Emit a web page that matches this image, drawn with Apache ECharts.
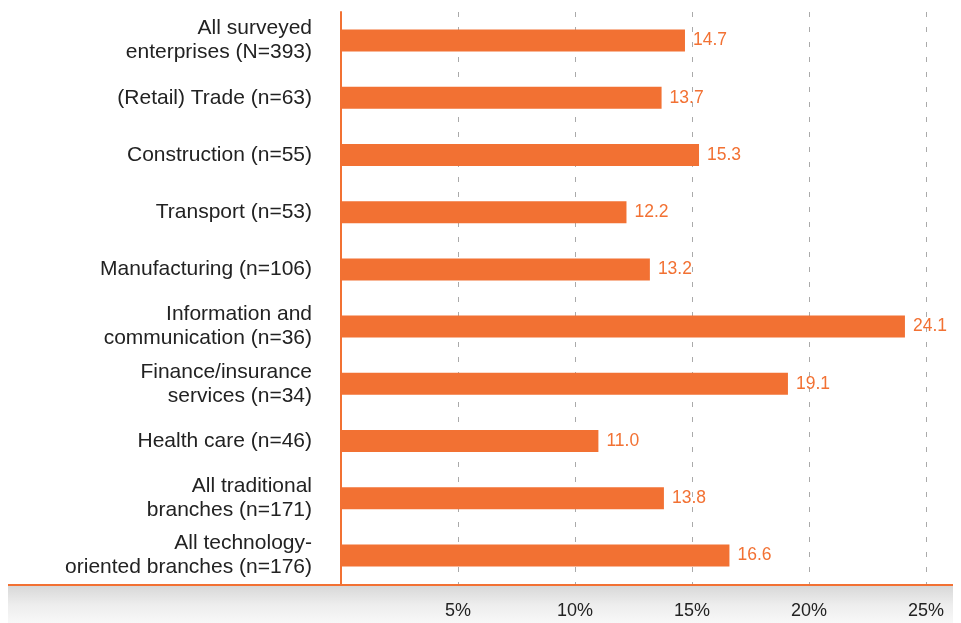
<!DOCTYPE html>
<html>
<head>
<meta charset="utf-8">
<script src="https://cdn.jsdelivr.net/npm/echarts@6/dist/echarts.min.js"></script>
<style>
html,body{margin:0;padding:0;background:#fff;}
#chart{width:961px;height:623px;}
</style>
</head>
<body>
<div id="chart"></div>
<script>
// Sector categories (top to bottom) and their shares in percent
const categories = [
  "All surveyed\nenterprises (N=393)",
  "(Retail) Trade (n=63)",
  "Construction (n=55)",
  "Transport (n=53)",
  "Manufacturing (n=106)",
  "Information and\ncommunication (n=36)",
  "Finance/insurance\nservices (n=34)",
  "Health care (n=46)",
  "All traditional\nbranches (n=171)",
  "All technology-\noriented branches (n=176)"
];
const values = [14.7, 13.7, 15.3, 12.2, 13.2, 24.1, 19.1, 11.0, 13.8, 16.6];
const xTicks = [5, 10, 15, 20, 25];

const ORANGE = '#F27133';
const FONT = 'Liberation Sans, Arial, Helvetica, sans-serif';
const chart = echarts.init(document.getElementById('chart'));

chart.setOption({
  animation: false,
  graphic: [
    {
      type: 'rect',
      z: 0,
      shape: { x: 8, y: 586, width: 945, height: 37 },
      style: {
        fill: new echarts.graphic.LinearGradient(0, 0, 0, 1, [
          { offset: 0, color: '#d8d8d8' },
          { offset: 0.5, color: '#ededed' },
          { offset: 1, color: '#f8f8f8' }
        ])
      }
    },
    {
      type: 'line',
      z: 10,
      shape: { x1: 8, y1: 585, x2: 953, y2: 585 },
      style: { stroke: ORANGE, lineWidth: 2 }
    }
  ],
  grid: { left: 341, top: 12, width: 585, height: 572, containLabel: false },
  xAxis: {
    type: 'value',
    min: 0,
    max: 25,
    interval: 5,
    axisLine: { show: false },
    axisTick: { show: false },
    splitLine: {
      show: true,
      lineStyle: { color: '#aaaaaa', type: [5, 10], width: 1 }
    },
    axisLabel: {
      margin: 18,
      fontFamily: FONT,
      fontSize: 18,
      color: '#222',
      formatter: function (v) { return xTicks.indexOf(v) >= 0 ? v + '%' : ''; },
      showMinLabel: false,
      showMaxLabel: true
    }
  },
  yAxis: {
    type: 'category',
    inverse: true,
    data: categories,
    axisLine: { show: true, lineStyle: { color: ORANGE, width: 2 } },
    axisTick: { show: false },
    axisLabel: {
      margin: 29,
      fontFamily: FONT,
      fontSize: 21,
      lineHeight: 24,
      color: '#222',
      align: 'right'
    }
  },
  series: [{
    type: 'bar',
    data: values,
    barWidth: 22,
    itemStyle: { color: ORANGE },
    label: {
      show: true,
      position: 'right',
      distance: 8,
      fontFamily: FONT,
      fontSize: 17.5,
      color: ORANGE,
      formatter: function (p) { return p.value.toFixed(1); }
    }
  }]
});
</script>
</body>
</html>
